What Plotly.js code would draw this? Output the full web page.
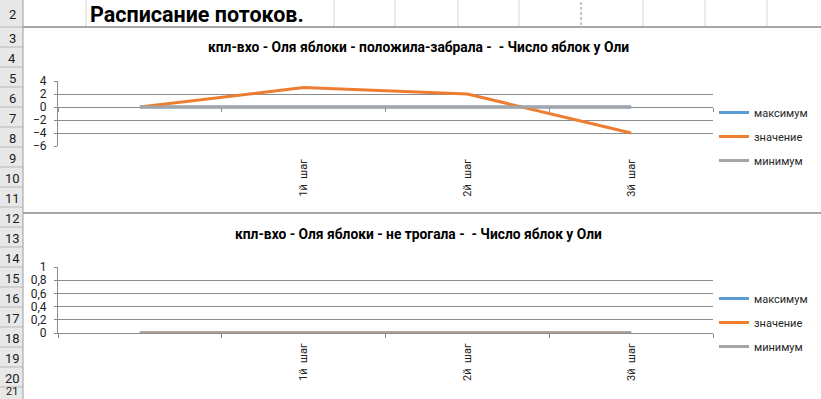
<!DOCTYPE html>
<html>
<head>
<meta charset="utf-8">
<script src="https://cdn.plot.ly/plotly-3.0.1.min.js"></script>
<style>html,body{margin:0;padding:0;background:#fff;}#chart{width:821px;height:399px;}</style>
</head>
<body>
<div id="chart"></div>
<script>
// ---- data ----
const categories = [" ", "1й\u00a0\u00a0шаг", "2й\u00a0\u00a0шаг", "3й\u00a0\u00a0шаг"];
const seriesNames = ["максимум", "значение", "минимум"];
const chart1Max = [0, 0, 0, 0];
const chart1Value = [0, 3, 2, -4];
const chart1Min = [0, 0, 0, 0];
const chart2Max = [0, 0, 0, 0];
const chart2Value = [0, 0, 0, 0];
const chart2Min = [0, 0, 0, 0];
const sheetTitle = "Расписание потоков.";
const chart1Title = "кпл-вхо - Оля яблоки - положила-забрала -  - Число яблок у Оли";
const chart2Title = "кпл-вхо - Оля яблоки - не трогала -  - Число яблок у Оли";
const rowNumbers = [2,3,4,5,6,7,8,9,10,11,12,13,14,15,16,17,18,19,20,21];

// ---- layout helpers ----
const W = 821, H = 399;
const px = x => x / W;
const py = y => 1 - y / H;
const colors = ["#5b9bd5", "#ed7d31", "#a5a5a5"];
const gridCol = "#8c8c8c";
const FONT = "Roboto, 'Noto Sans', sans-serif";

const y1Range = [-6, 4];
const y1Dom = [py(146), py(81)];
const zeroPos = y1Dom[0] + (0 - y1Range[0]) / (y1Range[1] - y1Range[0]) * (y1Dom[1] - y1Dom[0]);

function mk(vals, i, xa, ya, legend, group) {
  return {
    type: "scatter", mode: "lines", x: categories, y: vals, name: seriesNames[i],
    xaxis: xa, yaxis: ya, legend: legend, legendgroup: group,
    line: {color: colors[i], width: 3}, hoverinfo: "skip"
  };
}

const traces = [
  mk(chart1Max, 0, "x", "y", "legend", "a0"),
  mk(chart1Value, 1, "x", "y", "legend", "a1"),
  mk(chart1Min, 2, "x3", "y", "legend", "a2"),
  mk(chart2Max, 0, "x2", "y2", "legend2", "b0"),
  mk(chart2Value, 1, "x2", "y2", "legend2", "b1"),
  mk(chart2Min, 2, "x2", "y2", "legend2", "b2")
];

const xDom = [px(58), px(713)];
const catAxis = {
  type: "category", categoryorder: "array", categoryarray: categories,
  range: [-0.5, categories.length - 0.5], domain: xDom, fixedrange: true
};

const shapes = [];
// row header
shapes.push({type: "rect", xref: "paper", yref: "paper", x0: 0, x1: px(23), y0: 0, y1: 1, fillcolor: "#e8e8e8", line: {width: 0}, layer: "below"});
const rowBounds = [];
for (let k = 0; k < rowNumbers.length; k++) {
  const top = k === 0 ? 0 : 27 + (k - 1) * 20;
  const bot = k === 0 ? 27 : top + 20;
  rowBounds.push([top, bot]);
  shapes.push({type: "line", xref: "paper", yref: "paper", x0: 0, x1: px(23), y0: py(bot), y1: py(bot), line: {color: "#b8b8b8", width: 1}});
}
shapes.push({type: "line", xref: "paper", yref: "paper", x0: px(23), x1: px(23), y0: 0, y1: 1, line: {color: "#9e9e9e", width: 1}});
// column lines in row 2
[86, 334, 395, 458, 519, 643, 705, 767].forEach(x => shapes.push({type: "line", xref: "paper", yref: "paper", x0: px(x), x1: px(x), y0: py(0), y1: py(27), line: {color: "#d6d6d6", width: 1}}));
shapes.push({type: "line", xref: "paper", yref: "paper", x0: px(581), x1: px(581), y0: py(2), y1: py(25), line: {color: "#8a8a8a", width: 1, dash: "3px,2px"}});
// chart borders
[27, 213].forEach(y => shapes.push({type: "line", xref: "paper", yref: "paper", x0: px(23), x1: 1, y0: py(y), y1: py(y), line: {color: "#8a8a8a", width: 1.5}}));

const annotations = [];
rowNumbers.forEach((r, k) => {
  const c = (rowBounds[k][0] + rowBounds[k][1]) / 2;
  const last = rowBounds[k][1] > H;
  annotations.push({
    xref: "paper", yref: "paper", x: px(12), y: last ? 0 : py(c + 1),
    xanchor: "center", yanchor: last ? "bottom" : "middle", showarrow: false, borderpad: 0,
    text: String(r), font: {family: FONT, size: last ? 11 : 13, color: "#1b1b1b"}
  });
});
annotations.push({xref: "paper", yref: "paper", x: px(88), y: py(14), xanchor: "left", yanchor: "middle", showarrow: false, text: "<b>" + sheetTitle + "</b>", font: {family: FONT, size: 21.5, color: "#000"}});
annotations.push({xref: "paper", yref: "paper", x: px(418), y: py(47), xanchor: "center", yanchor: "middle", showarrow: false, text: "<b>" + chart1Title + "</b>", font: {family: FONT, size: 13.8, color: "#000"}});
annotations.push({xref: "paper", yref: "paper", x: px(418), y: py(234), xanchor: "center", yanchor: "middle", showarrow: false, text: "<b>" + chart2Title + "</b>", font: {family: FONT, size: 13.8, color: "#000"}});

const yCommon = {
  showgrid: true, gridcolor: gridCol, gridwidth: 1, zeroline: false,
  showline: true, linecolor: gridCol, linewidth: 1,
  ticks: "outside", ticklen: 3, tickcolor: gridCol,
  tickfont: {family: FONT, size: 12, color: "#1e1e1e"}, ticklabelstandoff: 5, fixedrange: true
};
const legCommon = {
  xref: "paper", yref: "paper", xanchor: "left", yanchor: "top",
  bgcolor: "rgba(0,0,0,0)", borderwidth: 0, tracegroupgap: 5,
  font: {family: FONT, size: 11, color: "#262626"}, itemwidth: 30
};

const layout = {
  width: W, height: H, margin: {l: 0, r: 0, t: 0, b: 0},
  paper_bgcolor: "#fff", plot_bgcolor: "rgba(0,0,0,0)",
  separators: ", ", font: {family: FONT, size: 11, color: "#222"},
  showlegend: true,
  xaxis: Object.assign({}, catAxis, {anchor: "y", showgrid: false, zeroline: false, showline: false, ticks: "", tickangle: -90, ticklabelstandoff: 10, tickfont: {family: FONT, size: 11, color: "#222"}}),
  xaxis3: Object.assign({}, catAxis, {overlaying: "x", anchor: "free", position: zeroPos, showgrid: false, zeroline: false, showline: false, ticks: "outside", tickson: "boundaries", ticklen: 4, tickcolor: gridCol, showticklabels: false}),
  yaxis: Object.assign({}, yCommon, {domain: y1Dom, anchor: "x", range: y1Range, dtick: 2, tick0: 0}),
  xaxis2: Object.assign({}, catAxis, {anchor: "y2", showgrid: false, zeroline: false, showline: true, linecolor: gridCol, ticks: "outside", tickson: "boundaries", ticklen: 4, tickcolor: gridCol, tickangle: -90, ticklabelstandoff: 5, tickfont: {family: FONT, size: 11, color: "#222"}}),
  yaxis2: Object.assign({}, yCommon, {domain: [py(333), py(267)], anchor: "x2", range: [0, 1], dtick: 0.2, tick0: 0}),
  legend: Object.assign({}, legCommon, {x: px(714), y: py(98)}),
  legend2: Object.assign({}, legCommon, {x: px(714), y: py(284)}),
  shapes: shapes,
  annotations: annotations
};

Plotly.newPlot("chart", traces, layout, {staticPlot: true, displayModeBar: false});
</script>
</body>
</html>
